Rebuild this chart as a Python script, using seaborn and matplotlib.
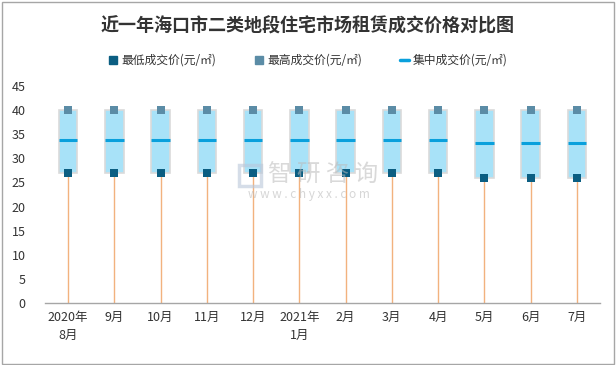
"""
近一年海口市二类地段住宅市场租赁成交价格对比图
"""

import numpy as np
import pandas as pd
import matplotlib
matplotlib.use("Agg")
import matplotlib.pyplot as plt
from matplotlib.lines import Line2D
from matplotlib.patches import Rectangle
import seaborn as sns

# Data (元/㎡)
months = ["2020年\n8月", "9月", "10月", "11月", "12月", "2021年\n1月",
          "2月", "3月", "4月", "5月", "6月", "7月"]
min_price = [27, 27, 27, 27, 27, 27, 27, 27, 27, 26, 26, 26]
max_price = [40, 40, 40, 40, 40, 40, 40, 40, 40, 40, 40, 40]
mid_price = [33.8, 33.8, 33.8, 33.8, 33.8, 33.8, 33.8, 33.8, 33.8, 33.2, 33.2, 33.2]

# Colors
C_MIN = "#0B5E82"
C_MAX = "#5B8CA6"
C_MID = "#0AA0DC"
C_BOX = "#A8E2F8"
C_STEM = "#F2B27E"

sns.set_theme(style="white")
plt.rcParams["font.family"] = ["Noto Sans CJK SC", "DejaVu Sans"]

df = pd.DataFrame({
    "pos": np.arange(len(months)),
    "month": months,
    "low": min_price,
    "high": max_price,
    "mid": mid_price,
})

fig = plt.figure(figsize=(6.16, 3.65), dpi=100)
ax = fig.add_axes([0.073, 0.170, 0.901, 0.594])

# stems from 0 up to the lowest price
ax.vlines(df["pos"], 0, df["low"], color=C_STEM, lw=1.0, zorder=1)

# price range boxes
ax.bar(df["pos"], df["high"] - df["low"], bottom=df["low"], width=0.40,
       color=C_BOX, edgecolor="#DADADA", linewidth=1.2, zorder=2)

# concentrated price
ax.hlines(df["mid"], df["pos"] - 0.20, df["pos"] + 0.20, color=C_MID, lw=2.2, zorder=3)

# min / max markers
sns.scatterplot(data=df, x="pos", y="high", marker="s", s=28, color=C_MAX,
                linewidth=0, zorder=4, ax=ax, legend=False)
sns.scatterplot(data=df, x="pos", y="low", marker="s", s=28, color=C_MIN,
                linewidth=0, zorder=4, ax=ax, legend=False)

ax.set_xlim(-0.5, len(months) - 0.5)
ax.set_ylim(0, 45)
ax.set_yticks(range(0, 46, 5))
ax.set_xticks(df["pos"])
ax.set_xticklabels(months, fontsize=9, color="#333333", linespacing=1.5)
ax.tick_params(axis="y", labelsize=9, labelcolor="#333333", pad=8)
ax.tick_params(axis="x", length=0, pad=6)
ax.set_xlabel("")
ax.set_ylabel("")
for side in ["top", "right", "left"]:
    ax.spines[side].set_visible(False)
ax.spines["bottom"].set_color("#A6A6A6")
ax.spines["bottom"].set_linewidth(1.0)

# title
fig.text(0.5, 0.93, "近一年海口市二类地段住宅市场租赁成交价格对比图",
         ha="center", va="center", fontsize=13, fontweight="bold", color="#333333")

# legend
handles = [
    Line2D([], [], marker="s", color=C_MIN, linestyle="none", markersize=5.5),
    Line2D([], [], marker="s", color=C_MAX, linestyle="none", markersize=5.5),
    Line2D([], [], color=C_MID, lw=2.5),
]
labels = ["最低成交价(元/㎡)", "最高成交价(元/㎡)", "集中成交价(元/㎡)"]
fig.legend(handles, labels, loc="center", bbox_to_anchor=(0.5, 0.835), ncol=3,
           frameon=False, fontsize=8.5, handlelength=0.8, handletextpad=0.3,
           columnspacing=3.2, labelcolor="#333333")

# watermark
fig.patches.append(Rectangle((0.388, 0.49), 0.036, 0.058, transform=fig.transFigure,
                             fill=False, edgecolor="#B9C7DA", lw=2.5, alpha=0.6, zorder=10))
fig.text(0.525, 0.52, "智 研 咨 询", ha="center", va="center", fontsize=17,
         color="#BBBBBB", alpha=0.55, zorder=10)
fig.text(0.502, 0.466, "w w w . c h y x x . c o m", ha="center", va="center", fontsize=8.5,
         color="#BBBBBB", alpha=0.6, zorder=10)

# outer border
fig.patches.append(Rectangle((0.003, 0.004), 0.993, 0.99, transform=fig.transFigure,
                             fill=False, edgecolor="#A6A6A6", lw=1.0))

fig.savefig("out.png", dpi=100)
